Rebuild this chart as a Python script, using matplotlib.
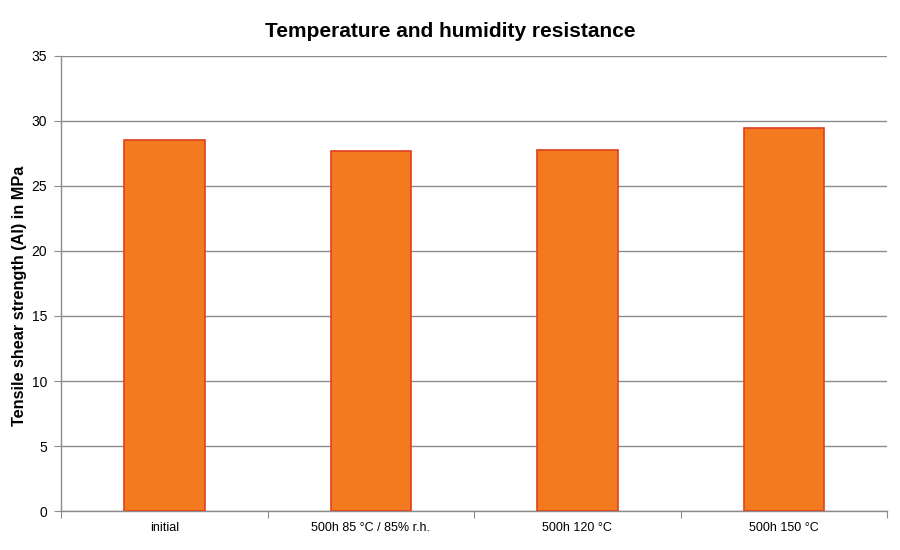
import matplotlib.pyplot as plt
import numpy as np

plt.rcParams['font.family'] = ['Liberation Sans', 'DejaVu Sans']

categories = ['initial', '500h 85 °C / 85% r.h.', '500h 120 °C', '500h 150 °C']
strength = [28.5, 27.7, 27.75, 29.45]

fig = plt.figure(figsize=(9, 5.5), dpi=100)
ax = fig.add_axes([0.0678, 0.0709, 0.9178, 0.8273])

x = np.arange(len(categories))
ax.bar(x, strength, width=0.39, color='#F47A20', edgecolor='#E0401E', linewidth=1.2, zorder=3)

ax.set_xlim(-0.5, len(categories) - 0.5)
ax.set_ylim(0, 35)
ax.set_yticks(np.arange(0, 36, 5))
ax.yaxis.grid(True, color='#8c8c8c', linewidth=1, zorder=0)

# category labels between tick marks at the boundaries
ax.set_xticks(np.arange(-0.5, len(categories), 1))
ax.set_xticklabels([])
ax.set_xticks(x, minor=True)
ax.set_xticklabels(categories, minor=True, fontsize=9)
ax.tick_params(axis='x', which='minor', length=0, pad=8)
ax.tick_params(axis='x', which='major', length=5, direction='out', color='#8c8c8c')
ax.tick_params(axis='y', length=5, color='#8c8c8c', labelsize=10, pad=5)

for s in ['top', 'right']:
    ax.spines[s].set_visible(False)
for s in ['left', 'bottom']:
    ax.spines[s].set_color('#8c8c8c')
    ax.spines[s].set_linewidth(1)

ax.set_ylabel('Tensile shear strength (Al) in MPa', fontsize=11.7, fontweight='bold')
ax.yaxis.set_label_coords(-0.041, 0.472)
fig.suptitle('Temperature and humidity resistance', fontsize=15, fontweight='bold', x=0.5, y=0.96)

plt.savefig('out.png')
